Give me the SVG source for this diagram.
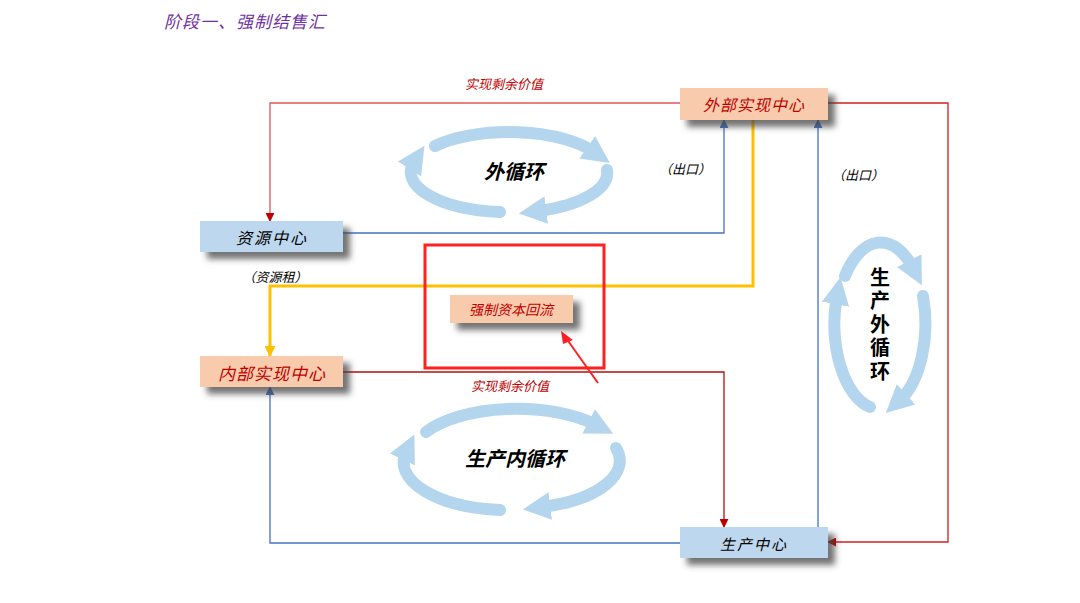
<svg xmlns="http://www.w3.org/2000/svg" width="1080" height="603" viewBox="0 0 1080 603">
<style>
.t{font-family:"Noto Sans CJK SC","Noto Sans",sans-serif;font-style:italic;text-anchor:middle;dominant-baseline:central}
.red{fill:#C00000}
.blk{fill:#000}
.peach{fill:#F8CBAD}
.blue{fill:#BDD7EE}
.loop{fill:none;stroke:#B4D5EE;stroke-width:12;stroke-linecap:round}
.cr{fill:none;stroke:#D9595A;stroke-width:1.3}
.cb{fill:none;stroke:#4472C4;stroke-width:1.3}
.cd{fill:none;stroke:#B01010;stroke-width:1.3}
.cy{fill:none;stroke:#FFC000;stroke-width:3}
</style>
<defs>
<filter id="sh" x="-20%" y="-40%" width="150%" height="200%">
<feDropShadow dx="7" dy="7" stdDeviation="3" flood-color="#444" flood-opacity="0.75"/>
</filter>
<marker id="ar" viewBox="0 0 10 10" refX="9" refY="5" markerWidth="9" markerHeight="9" markerUnits="userSpaceOnUse" orient="auto"><path d="M0,0 L10,5 L0,10 z" fill="#C00000"/></marker>
<marker id="ab" viewBox="0 0 10 10" refX="9" refY="5" markerWidth="9" markerHeight="9" markerUnits="userSpaceOnUse" orient="auto"><path d="M0,0 L10,5 L0,10 z" fill="#4472C4"/></marker>
<marker id="ay" viewBox="0 0 10 10" refX="9" refY="5" markerWidth="11" markerHeight="11" markerUnits="userSpaceOnUse" orient="auto"><path d="M0,0 L10,5 L0,10 z" fill="#FFC000"/></marker>
<marker id="al" viewBox="0 0 10 10" refX="3" refY="5" markerWidth="2.3" markerHeight="2.6" orient="auto"><path d="M0,0 L10,5 L0,10 z" fill="#B4D5EE"/></marker>
</defs>

<text x="245" y="20" class="t" style="font-size:17px;letter-spacing:1px;fill:#7030A0">阶段一、强制结售汇</text>

<g id="loops">
<path class="loop" marker-end="url(#al)" d="M435,146 A98,40 0 0 1 594,152"/>
<path class="loop" marker-end="url(#al)" d="M607,170 A98,40 0 0 1 538,211"/>
<path class="loop" marker-end="url(#al)" d="M500,212 A98,40 0 0 1 414,162"/>
<path class="loop" marker-end="url(#al)" d="M426,432 A106,48 0 0 1 596,425"/>
<path class="loop" marker-end="url(#al)" d="M616,448 A106,48 0 0 1 542,507"/>
<path class="loop" marker-end="url(#al)" d="M500,510 A106,48 0 0 1 406,452"/>
<path class="loop" marker-end="url(#al)" d="M845,276 A45,85 0 0 1 913,268"/>
<path class="loop" marker-end="url(#al)" d="M923,296 A45,85 0 0 1 900,400"/>
<path class="loop" marker-end="url(#al)" d="M870,407 A45,85 0 0 1 837,296"/>
</g>

<g id="connectors">
<path class="cr" marker-end="url(#ar)" d="M680,103 H270 V221"/>
<path class="cb" marker-end="url(#ab)" d="M343,233 H724 V120"/>
<path class="cy" marker-end="url(#ay)" d="M753,120 V286 H270 V356"/>
<path class="cb" marker-end="url(#ab)" d="M818,527 V120"/>
<path class="cr" style="stroke:#D02020" marker-end="url(#ar)" d="M828,103 H948 V542 H828"/>
<path class="cd" marker-end="url(#ar)" d="M343,372 H724 V527"/>
<path class="cb" marker-end="url(#ab)" d="M680,543 H270 V387"/>
<rect x="425" y="245" width="179" height="123" fill="none" stroke="#FF2020" stroke-width="3"/>
<line x1="598" y1="383" x2="566" y2="338" stroke="#FF2020" stroke-width="2"/>
<path d="M561,331 L573,340 L563,344 z" fill="#FF2020"/>
</g>

<g id="n-waibu"><rect x="680" y="88" width="148" height="32" class="peach" filter="url(#sh)"/><text x="754" y="104" class="t red" style="font-size:16px;letter-spacing:1px">外部实现中心</text></g>
<g id="n-ziyuan"><rect x="200" y="221" width="143" height="31" class="blue" filter="url(#sh)"/><text x="272" y="237" class="t blk" style="font-size:16px;letter-spacing:2px">资源中心</text></g>
<g id="n-neibu"><rect x="200" y="356" width="143" height="31" class="peach" filter="url(#sh)"/><text x="272" y="372" class="t red" style="font-size:17px;letter-spacing:1px">内部实现中心</text></g>
<g id="n-qiangzhi"><rect x="450" y="295" width="123" height="28" class="peach" filter="url(#sh)"/><text x="511" y="309" class="t red" style="font-size:14px">强制资本回流</text></g>
<g id="n-shengchan"><rect x="680" y="527" width="148" height="31" class="blue" filter="url(#sh)"/><text x="754" y="543" class="t blk" style="font-size:15px;letter-spacing:2px">生产中心</text></g>

<g id="labels">
<text x="504" y="83" class="t red" style="font-size:13px">实现剩余价值</text>
<text x="510" y="385" class="t red" style="font-size:13px">实现剩余价值</text>
<text x="685" y="168" class="t blk" style="font-size:13px">（出口）</text>
<text x="858" y="174" class="t blk" style="font-size:13px">（出口）</text>
<text x="275" y="276" class="t blk" style="font-size:13px">（资源租）</text>
<text x="514" y="170" class="t blk" style="font-size:20px;font-weight:bold">外循环</text>
<text x="515" y="457" class="t blk" style="font-size:20px;font-weight:bold">生产内循环</text>
<text x="880" y="326" style="font-family:'Noto Sans CJK SC',sans-serif;font-size:20px;font-weight:bold;writing-mode:vertical-rl;letter-spacing:3.5px;text-anchor:middle;fill:#000">生产外循环</text>
</g>
</svg>
